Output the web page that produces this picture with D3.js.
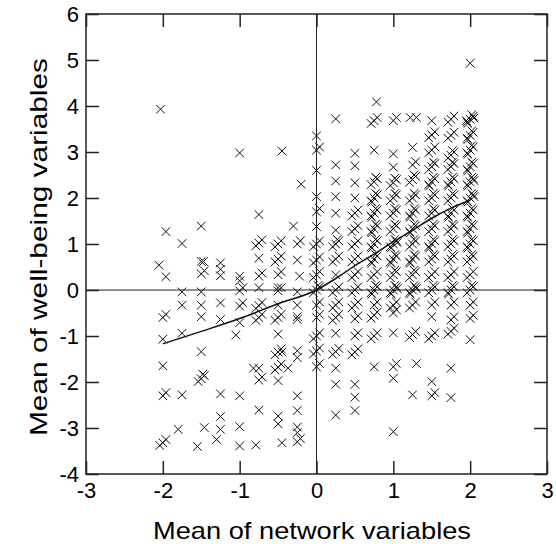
<!DOCTYPE html>
<html>
<head>
<meta charset="utf-8">
<script src="https://cdn.jsdelivr.net/npm/d3@7/dist/d3.min.js"></script>
<style>
  body { margin: 0; background: #fff; }
</style>
</head>
<body>
<div id="chart"></div>
<script>
// x position of each column of observations
const xCols = [-2, -1.75, -1.5, -1.25, -1, -0.75, -0.5, -0.25, 0, 0.25, 0.5, 0.75, 1, 1.25, 1.5, 1.75, 2];

// y values in each column (repeats = stacked observations)
const yCols = [
  [-0.6, -0.6, -1.07, -1.65, -2.3, -2.3, -3.32, -3.32, -3.32],
  [1.01, -0.04, -0.33, -0.94, -2.28],
  [1.39, 0.62, 0.35, 0.35, -0.04, -0.33, -0.58, -1.34, -1.93, -1.93, -1.93, -1.93],
  [0.59, 0.45, 0.31, -0.28, -0.64, -2.26, -2.75, -3.03],
  [2.98, 0.3, 0.2, -0.02, -0.02, -0.35, -0.35, -0.71, -2.3, -2.97, -3.39],
  [1.64, 1.02, 1.02, 1.02, 0.69, 0.3, 0.3, 0.05, -0.34, -0.34, -0.34, -0.6, -0.6, -0.6, -1.7, -1.96, -1.96, -2.61],
  [1, 1, 1, 0.67, 0.67, 0.67, 0.33, 0.33, 0.05, -0.02, -0.02, -0.33, -0.6, -0.6, -0.6, -0.96,
   -1.35, -1.35, -1.35, -1.68, -1.68, -1.68, -1.97, -2.74, -2.91],
  [1, 1, 0.65, -0.04, -0.33, -0.58, -0.64, -1.32, -1.47, -2.3, -2.62, -2.98, -3.1, -3.3, -3.3],
  [3.35, 3.04, 3.04, 2.6, 2.03, 1.7, 1.7, 1.38, 1, 1, 1, 0.65, 0.65, 0.65, 0.33, 0.33, 0.33,
   0, 0, 0, 0, -0.33, -0.33, -0.6, -0.6, -1, -1, -1, -1.33, -1.33, -1.33, -1.67, -1.67],
  [3.72, 2.72, 2.37, 2.03, 1.67, 1.3, 1, 1, 1, 1, 0.67, 0.67, 0.67, 0.33, 0, 0, 0,
   -0.33, -0.33, -0.33, -0.6, -0.6, -0.6, -0.94, -1.34, -1.34, -1.34, -1.7, -2.05, -2.72],
  [2.97, 2.7, 2.33, 2, 1.67, 1.67, 1.67, 1.33, 1.33, 1.33, 1, 1, 1, 0.67, 0.67, 0.67,
   0.33, 0.33, 0.33, 0, 0, 0, -0.33, -0.33, -0.33, -0.63, -0.63, -1, -1,
   -1.35, -1.35, -1.35, -2.05, -2.33, -2.62],
  [3.68, 3.68, 3.68, 3.04, 2.35, 2.35, 2.35, 2.35, 2, 2, 2, 2, 2, 1.67, 1.67, 1.67, 1.67, 1.67,
   1.33, 1.33, 1.33, 1.33, 1.33, 1, 1, 1, 1, 1, 0.67, 0.67, 0.67, 0.67, 0.67, 0.33, 0.33, 0.33,
   0, 0, 0, 0, 0, -0.33, -0.33, -0.55, -0.55, -0.55, -1, -1, -1, -1.67],
  [3.68, 3.68, 2.96, 2.67, 2.33, 2.33, 2.33, 2.33, 2, 2, 2, 2, 1.67, 1.67, 1.67, 1.67,
   1.33, 1.33, 1.33, 1.33, 1, 1, 1, 1, 1, 1, 0.67, 0.67, 0.67, 0.67, 0.67,
   0.33, 0.33, 0.33, 0.33, 0, 0, 0, 0, 0, 0,
   -0.33, -0.33, -0.33, -0.5, -0.5, -0.93, -1.67, -1.67, -1.92, -3.08],
  [3.1, 2.72, 2.72, 2.4, 2.4, 2.4, 2.4, 2, 2, 2, 2, 1.67, 1.67, 1.67, 1.67, 1.67,
   1.33, 1.33, 1.33, 1.33, 1.33, 1, 1, 1, 1, 0.67, 0.67, 0.67, 0.67, 0.67,
   0.33, 0.33, 0.33, 0.33, 0, 0, 0, 0, 0, 0,
   -0.33, -0.33, -0.33, -0.97, -0.97, -0.97, -2.28],
  [3.68, 3.37, 3.37, 3.37, 3.04, 3.04, 3.04, 2.68, 2.68, 2.68, 2.68, 2.35, 2.35, 2.35, 2.35, 2.35,
   2, 2, 2, 2, 1.67, 1.67, 1.67, 1.67, 1.33, 1.33, 1.33, 1.33, 1, 1, 1, 1, 1,
   0.67, 0.67, 0.67, 0.67, 0.33, 0.33, 0.33, 0, 0, 0, 0,
   -0.33, -0.33, -0.58, -1, -1, -1, -1.99, -2.3, -2.3],
  [3.71, 3.71, 3.71, 3.36, 3.36, 3.36, 2.93, 2.93, 2.93, 2.93, 2.68, 2.68, 2.68, 2.68,
   2.35, 2.35, 2.35, 2.35, 2.35, 2, 2, 2, 2, 1.67, 1.67, 1.67, 1.67, 1.67,
   1.33, 1.33, 1.33, 1.33, 1, 1, 1, 1, 0.67, 0.67, 0.67, 0.67,
   0.33, 0.33, 0.33, 0, 0, 0, 0, 0, -0.33, -0.33, -0.65, -0.65, -0.9, -0.9, -0.9, -1.7, -2.34],
  [4.93, 3.71, 3.71, 3.71, 3.71, 3.71, 3.71, 3.71, 3.36, 3.36, 3.36, 3.36, 3.36,
   3.04, 3.04, 3.04, 3.04, 3.04, 2.68, 2.68, 2.68, 2.68, 2.68,
   2.35, 2.35, 2.35, 2.35, 2.35, 2.35, 2, 2, 2, 2, 2, 2,
   1.67, 1.67, 1.67, 1.67, 1.67, 1.33, 1.33, 1.33, 1.33, 1.33, 1, 1, 1, 1, 1,
   0.67, 0.67, 0.67, 0.67, 0.33, 0.33, 0.33, 0, 0, 0, 0, -0.33, -0.33, -0.62, -0.62, -1.08]
];

// observations lying off the column grid
const extraPts = [
  [-2.03, 3.93], [-2.05, 0.54], [-1.96, 0.29], [-1.96, 1.27],
  [-1.8, -3.03], [-1.47, 0.62], [-1.46, -2.99], [-1.55, -3.4],
  [-1.3, -3.25], [-1.05, -0.98], [-0.82, -1.7], [-0.79, -3.37],
  [-0.45, 3.02], [-0.45, -3.32], [-0.45, -1.35], [-0.2, 2.3],
  [-0.3, 1.39], [-0.22, 0.3], [-0.37, -1.7], [0.78, 4.09],
  [1.22, 3.75], [1.3, 3.75], [1.3, -1.6]
];

// fitted curve
const fitX = [-2, -1.5, -1, -0.5, 0, 0.25, 0.5, 0.75, 1, 1.25, 1.5, 1.75, 2];
const fitY = [-1.17, -0.9, -0.62, -0.3, 0, 0.25, 0.53, 0.78, 1.05, 1.3, 1.56, 1.78, 1.95];

const xTicks = [-3, -2, -1, 0, 1, 2, 3];
const yTicks = [-4, -3, -2, -1, 0, 1, 2, 3, 4, 5, 6];

// small offsets so that stacked observations show as clusters
const jitX = [0, 0.04, -0.04, 0.02, -0.03, 0.05, -0.05, 0.01];
const jitY = [0, 0.07, -0.06, 0.1, -0.09, 0.03, -0.03, 0.12];

const WIDTH = 556, HEIGHT = 544;
const MARGIN = { top: 14, right: 9, bottom: 70, left: 86 };
const TICK = 13;
const FONT = "'Liberation Sans', Arial, sans-serif";

const svg = d3.select("#chart").append("svg")
  .attr("width", WIDTH)
  .attr("height", HEIGHT);

const x = d3.scaleLinear().domain([-3, 3]).range([MARGIN.left, WIDTH - MARGIN.right]);
const y = d3.scaleLinear().domain([-4, 6]).range([HEIGHT - MARGIN.bottom, MARGIN.top]);

// build points
const points = [];
xCols.forEach((cx, i) => {
  const seen = {};
  yCols[i].forEach(v => {
    const k = seen[v] || 0;
    seen[v] = k + 1;
    points.push([cx + jitX[k % jitX.length], v + jitY[k % jitY.length]]);
  });
});
extraPts.forEach(p => points.push(p));

// zero reference lines
svg.append("line")
  .attr("x1", x(0)).attr("x2", x(0))
  .attr("y1", y(-4)).attr("y2", y(6))
  .attr("stroke", "#222").attr("stroke-width", 1);
svg.append("line")
  .attr("x1", x(-3)).attr("x2", x(3))
  .attr("y1", y(0)).attr("y2", y(0))
  .attr("stroke", "#222").attr("stroke-width", 1);

// markers
const s = 4.3;
svg.append("g")
  .selectAll("path")
  .data(points)
  .enter()
  .append("path")
  .attr("d", d => {
    const px = x(d[0]), py = y(d[1]);
    return `M${px - s},${py - s}L${px + s},${py + s}M${px - s},${py + s}L${px + s},${py - s}`;
  })
  .attr("stroke", "#111")
  .attr("stroke-width", 1)
  .attr("fill", "none");

// fitted curve
const line = d3.line()
  .x((d, i) => x(fitX[i]))
  .y((d, i) => y(fitY[i]))
  .curve(d3.curveMonotoneX);
svg.append("path")
  .datum(fitX)
  .attr("fill", "none")
  .attr("stroke", "#111")
  .attr("stroke-width", 1.5)
  .attr("d", line);

// axes with inward ticks on all four sides
svg.append("g")
  .attr("transform", `translate(0,${y(-4)})`)
  .call(d3.axisBottom(x).tickValues(xTicks).tickSize(-TICK).tickPadding(8).tickFormat(d => String(d)));
svg.append("g")
  .attr("transform", `translate(0,${y(6)})`)
  .call(d3.axisTop(x).tickValues(xTicks).tickSize(-TICK).tickFormat(""));
svg.append("g")
  .attr("transform", `translate(${x(-3)},0)`)
  .call(d3.axisLeft(y).tickValues(yTicks).tickSize(-TICK).tickPadding(7).tickFormat(d => String(d)));
svg.append("g")
  .attr("transform", `translate(${x(3)},0)`)
  .call(d3.axisRight(y).tickValues(yTicks).tickSize(-TICK).tickFormat(""));

svg.selectAll(".domain").remove();
svg.selectAll(".tick line").attr("stroke", "#222").attr("stroke-width", 1.5);
svg.selectAll(".tick text")
  .attr("font-family", FONT)
  .attr("font-size", 22)
  .attr("fill", "#000");

// frame
svg.append("rect")
  .attr("x", x(-3)).attr("y", y(6))
  .attr("width", x(3) - x(-3))
  .attr("height", y(-4) - y(6))
  .attr("fill", "none")
  .attr("stroke", "#222")
  .attr("stroke-width", 1.5);

// axis titles
svg.append("text")
  .attr("x", 312)
  .attr("y", 539)
  .attr("text-anchor", "middle")
  .attr("font-family", FONT)
  .attr("font-size", 24)
  .attr("textLength", 318)
  .attr("lengthAdjust", "spacingAndGlyphs")
  .text("Mean of network variables");

svg.append("text")
  .attr("transform", `translate(47,247) rotate(-90)`)
  .attr("text-anchor", "middle")
  .attr("font-family", FONT)
  .attr("font-size", 24)
  .attr("textLength", 378)
  .attr("lengthAdjust", "spacingAndGlyphs")
  .text("Mean of well-being variables");
</script>
</body>
</html>
